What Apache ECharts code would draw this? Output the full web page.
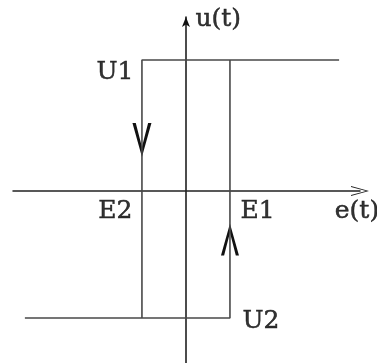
<!DOCTYPE html>
<html>
<head>
<meta charset="utf-8">
<script src="https://cdn.jsdelivr.net/npm/echarts@6/dist/echarts.min.js"></script>
<style>
  html, body { margin: 0; padding: 0; background: #fff; }
  #main { width: 377px; height: 363px; }
</style>
</head>
<body>
<div id="main"></div>
<script>
// relay with hysteresis: switching thresholds and output levels
var E1 = 1, E2 = -1;
var U1 = 1, U2 = -0.97;
var eLeft = -3.66, eRight = 3.48;   // where the saturation lines stop
var eMin = -3.93, eMax = 3.955;
var uMin = -1.313, uMax = 1.328;

var upperBranch = [[eRight, U1], [E2, U1], [E2, U2]];
var lowerBranch = [[eLeft, U2], [E1, U2], [E1, U1]];
// direction arrows on the vertical jumps
var arrowsDown = [[E2, 0.39]];
var arrowsUp = [[E1, -0.37]];

var pointNames = ['U1', 'E2', 'E1', 'U2', 'e(t)', 'u(t)'];
var pointValues = [[E2, U1], [E2, 0], [E1, 0], [E1, U2], [eMax, 0], [0, uMax]];

var labelStyles = {
  'U1': { position: 'left', distance: 8, offset: [0, 13] },
  'E2': { position: 'left', distance: 9, offset: [0, 21] },
  'E1': { position: 'right', distance: 10, offset: [0, 21] },
  'U2': { position: 'right', distance: 12, offset: [0, 3] },
  'e(t)': { position: 'inside', offset: [-3, 21] },
  'u(t)': { position: 'right', distance: 9, offset: [0, 2] }
};

var chevron = 'path://M10,0 L20,34 L16.5,34 L10,10 L3.5,34 L0,34 Z';

var dom = document.getElementById('main');
var myChart = echarts.init(dom, null, { renderer: 'canvas' });

var labelData = [];
for (var i = 0; i < pointNames.length; i++) {
  var st = labelStyles[pointNames[i]];
  labelData.push({
    name: pointNames[i],
    value: pointValues[i],
    label: {
      show: true,
      position: st.position,
      distance: st.distance || 0,
      offset: st.offset,
      formatter: '{b}'
    }
  });
}

var lineStyle = { color: '#484848', width: 1.6 };

var option = {
  backgroundColor: '#fff',
  animation: false,
  grid: { left: 13, right: 17, top: 17, bottom: 0 },
  xAxis: {
    type: 'value',
    min: eMin,
    max: eMax,
    splitLine: { show: false },
    axisTick: { show: false },
    axisLabel: { show: false },
    axisLine: {
      show: true,
      onZero: true,
      symbol: ['none', 'path://M5,0 L10,18 L9,18 L5,3 L1,18 L0,18 Z'],
      symbolSize: [10, 18],
      lineStyle: { color: '#222', width: 1.5 }
    }
  },
  yAxis: {
    type: 'value',
    min: uMin,
    max: uMax,
    splitLine: { show: false },
    axisTick: { show: false },
    axisLabel: { show: false },
    axisLine: {
      show: true,
      onZero: true,
      symbol: ['none', 'arrow'],
      symbolSize: [6, 10],
      lineStyle: { color: '#111', width: 1.5 }
    }
  },
  series: [
    {
      type: 'line',
      data: upperBranch,
      showSymbol: false,
      lineStyle: lineStyle
    },
    {
      type: 'line',
      data: lowerBranch,
      showSymbol: false,
      lineStyle: lineStyle
    },
    {
      type: 'scatter',
      data: arrowsDown,
      symbol: chevron,
      symbolSize: [19, 34],
      symbolRotate: 180,
      itemStyle: { color: '#111', opacity: 1 }
    },
    {
      type: 'scatter',
      data: arrowsUp,
      symbol: chevron,
      symbolSize: [18, 32],
      itemStyle: { color: '#111', opacity: 1 }
    },
    {
      type: 'scatter',
      data: labelData,
      symbolSize: 1,
      itemStyle: { color: 'rgba(0,0,0,0)' },
      label: {
        color: '#000',
        fontFamily: 'DejaVu Serif',
        fontSize: 25,
        textBorderColor: '#000',
        textBorderWidth: 0.5
      }
    }
  ]
};

myChart.setOption(option);
</script>
</body>
</html>
